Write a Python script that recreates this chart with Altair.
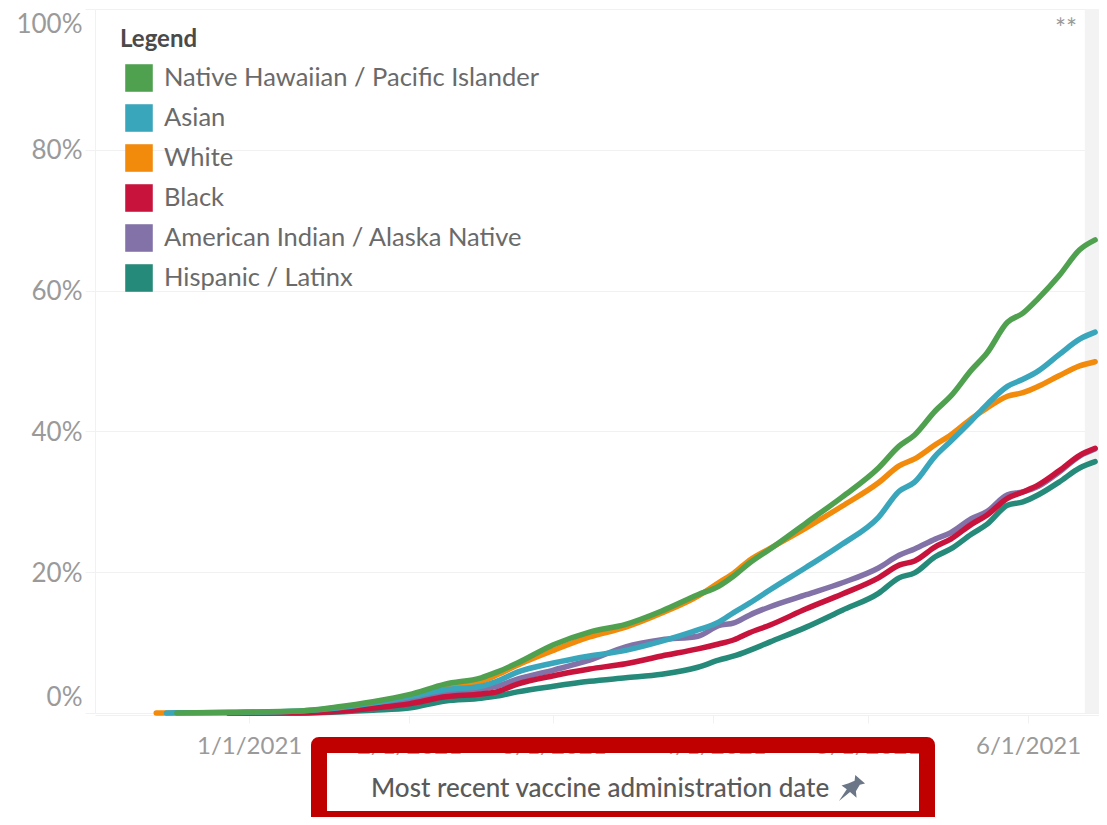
import altair as alt
import pandas as pd

dates = ["2020-12-14", "2020-12-16", "2020-12-18", "2020-12-28", "2021-01-11", "2021-01-18", "2021-01-25",
         "2021-02-01", "2021-02-08", "2021-02-15", "2021-02-18", "2021-02-22", "2021-03-01", "2021-03-08",
         "2021-03-15", "2021-03-22", "2021-03-29", "2021-04-02", "2021-04-05", "2021-04-08", "2021-04-12",
         "2021-04-19", "2021-04-26", "2021-05-03", "2021-05-07", "2021-05-10", "2021-05-14", "2021-05-17",
         "2021-05-21", "2021-05-24", "2021-05-28", "2021-05-31", "2021-06-03", "2021-06-07", "2021-06-11",
         "2021-06-14"]

white = [0, 0, 0.02, 0.05, 0.15, 0.4, 1.0, 2.0, 3.6, 4.5, 5.4, 6.8, 8.9, 10.8, 12.2, 14.2, 16.6, 18.5, 19.9,
         21.7, 23.4, 26.3, 29.4, 32.7, 35.1, 36.1, 38.1, 39.5, 41.8, 43.3, 45.0, 45.5, 46.4, 47.9, 49.3, 49.9]
asian = [None, 0, 0.02, 0.07, 0.3, 0.7, 1.4, 2.3, 3.3, 3.8, 4.5, 5.8, 7.1, 8.1, 8.9, 10.2, 11.8, 12.9, 14.3,
         15.6, 17.5, 20.7, 24.0, 27.8, 31.5, 32.8, 36.5, 38.6, 41.5, 43.8, 46.4, 47.4, 48.6, 50.9, 53.1, 54.1]
nhpi = [None, None, 0, 0.1, 0.3, 0.85, 1.6, 2.6, 4.1, 5.0, 5.8, 7.1, 9.7, 11.5, 12.6, 14.5, 16.8, 18.0, 19.5,
        21.3, 23.3, 27.0, 30.7, 34.8, 37.9, 39.5, 42.9, 45.0, 48.7, 51.1, 55.5, 56.8, 58.9, 62.1, 65.8, 67.2]
aian = [None, None, None, 0.02, 0.07, 0.4, 1.1, 1.8, 2.7, 3.4, 3.8, 4.8, 6.1, 7.5, 9.4, 10.4, 10.9, 12.4, 12.8,
        13.9, 15.1, 16.8, 18.5, 20.6, 22.4, 23.3, 24.7, 25.6, 27.6, 28.6, 31.0, 31.4, 32.2, 34.2, 36.5, 37.5]
black = [None, None, None, 0, 0, 0.2, 0.7, 1.3, 2.3, 2.7, 3.0, 4.1, 5.3, 6.25, 7.0, 8.1, 9.1, 9.8, 10.4,
         11.4, 12.5, 14.8, 16.9, 19.2, 21.0, 21.6, 23.6, 24.7, 26.8, 28.1, 30.5, 31.4, 32.4, 34.4, 36.6, 37.6]
latinx = [None, None, None, 0, 0, 0.15, 0.4, 0.7, 1.7, 2.1, 2.4, 3.0, 3.8, 4.5, 5.0, 5.5, 6.5, 7.5, 8.1,
          8.9, 10.1, 12.2, 14.6, 17.0, 19.2, 19.9, 22.2, 23.3, 25.4, 26.8, 29.5, 30.0, 31.0, 32.8, 34.8, 35.7]

legend_order = ["Native Hawaiian / Pacific Islander", "Asian", "White", "Black",
                "American Indian / Alaska Native", "Hispanic / Latinx"]
legend_colors = ["#4fa04f", "#3aa6bc", "#f28a0c", "#c8143c", "#8272a8", "#258a7a"]
draw_order = [("White", white), ("American Indian / Alaska Native", aian), ("Hispanic / Latinx", latinx),
              ("Black", black), ("Asian", asian), ("Native Hawaiian / Pacific Islander", nhpi)]

x_ticks = ["2021-01-01", "2021-02-01", "2021-03-01", "2021-04-01", "2021-05-01", "2021-06-01"]
y_ticks = [0, 20, 40, 60, 80, 100]
band_start = "2021-06-12"
band_end = "2021-06-14T18:00:00"

rows = [{"date": d, "pct": v, "series": name}
        for name, vals in draw_order for d, v in zip(dates, vals) if v is not None]
df = pd.DataFrame(rows)

FONT = "Lato"
GRID = "#f1f1f1"
AXT = "#9a9a9a"

x_scale = alt.Scale(type="utc", domain=[alt.DateTime(year=2020, month=12, date=2, hours=3, utc=True),
                                        alt.DateTime(year=2021, month=6, date=14, hours=18, utc=True)])
y_scale = alt.Scale(domain=[0, 100])

x_axis = alt.Axis(values=[pd.Timestamp(t).isoformat() for t in x_ticks],
                  labelExpr="utcFormat(datum.value, '%-m/%-d/%Y')",
                  title=None, grid=False, offset=2, tickSize=8, tickColor=GRID, domainColor=GRID,
                  labelFont=FONT, labelFontSize=24, labelColor=AXT, labelPadding=11, labelFlush=False,
                  labelOverlap=False)
y_axis = alt.Axis(values=y_ticks, labelExpr="datum.value + '%'", title=None, grid=True, gridColor=GRID,
                  tickSize=10, tickColor=GRID, domainColor=GRID, labelFont=FONT, labelFontSize=26,
                  labelColor=AXT, labelPadding=3, labelFlush=False,
                  labelOffset=alt.expr("datum.value === 0 ? -16 : datum.value === 100 ? 15 : 1"))

band = alt.Chart(pd.DataFrame({"start": [band_start], "end": [band_end]})).mark_rect(
    color="#f3f3f3").encode(
    x=alt.X("start:T", scale=x_scale, axis=x_axis),
    x2="end:T",
    y=alt.value(0),
    y2=alt.value(704),
)

lines = alt.Chart(df).mark_line(strokeWidth=5.5, strokeCap="round", strokeJoin="round", interpolate="monotone").encode(
    x=alt.X("date:T", scale=x_scale, axis=x_axis),
    y=alt.Y("pct:Q", scale=y_scale, axis=y_axis),
    color=alt.Color("series:N", scale=alt.Scale(domain=legend_order, range=legend_colors), legend=None),
)

keys = alt.Chart(pd.DataFrame({"series": legend_order})).mark_point(
    filled=True, shape="square", opacity=0).encode(
    fill=alt.Fill("series:N", scale=alt.Scale(domain=legend_order, range=legend_colors),
                  legend=alt.Legend(title="Legend", orient="none", legendX=25, legendY=19,
                                    symbolType="square", symbolSize=760, symbolOpacity=1, symbolStrokeWidth=0,
                                    symbolOffset=5, labelOffset=11, rowPadding=12,
                                    titleFont=FONT, titleFontSize=24, titleFontWeight="bold", titleColor="#4a4a4a",
                                    titlePadding=12, labelFont=FONT, labelFontSize=25.5, labelColor="#6a6a6a",
                                    labelLimit=500, padding=0)),
)

one = pd.DataFrame({"a": [0]})

note = alt.Chart(one).mark_text(text="**", font=FONT, fontSize=26, color="#999999", align="center").encode(
    x=alt.value(971), y=alt.value(21))

frame = alt.Chart(one).mark_rect(fillOpacity=0, stroke="#c00000", strokeWidth=16, strokeJoin="round").encode(
    x=alt.value(224), x2=alt.value(832), y=alt.value(736), y2=alt.value(810))
title = alt.Chart(one).mark_text(text="Most recent vaccine administration date", font=FONT, fontSize=26,
                                 fontWeight=500, color="#5a5a5a", align="left", baseline="middle").encode(
    x=alt.value(276), y=alt.value(780))
pin = alt.Chart(one).mark_point(
    filled=True, opacity=1, color="#6b7686", size=680,
    shape="M0.25,-1 L1,-0.35 L0.6,-0.25 L0.3,0.25 L0.35,0.75 L-0.15,0.3 L-1,1 L-0.4,0.1 L-0.8,-0.2 L-0.3,-0.35 L0.2,-0.55 Z"
).encode(x=alt.value(757), y=alt.value(779))

chart = alt.layer(band, lines, keys, note, frame, title, pin).resolve_scale(
    color="independent", fill="independent"
).properties(
    width=1004, height=704,
    padding={"left": 87, "top": 1, "right": 0, "bottom": 104},
    autosize=alt.AutoSizeParams(type="none"),
    background="#ffffff",
).configure_view(stroke=None)

chart.save("out.html", embed_options={"renderer": "svg", "actions": False})
